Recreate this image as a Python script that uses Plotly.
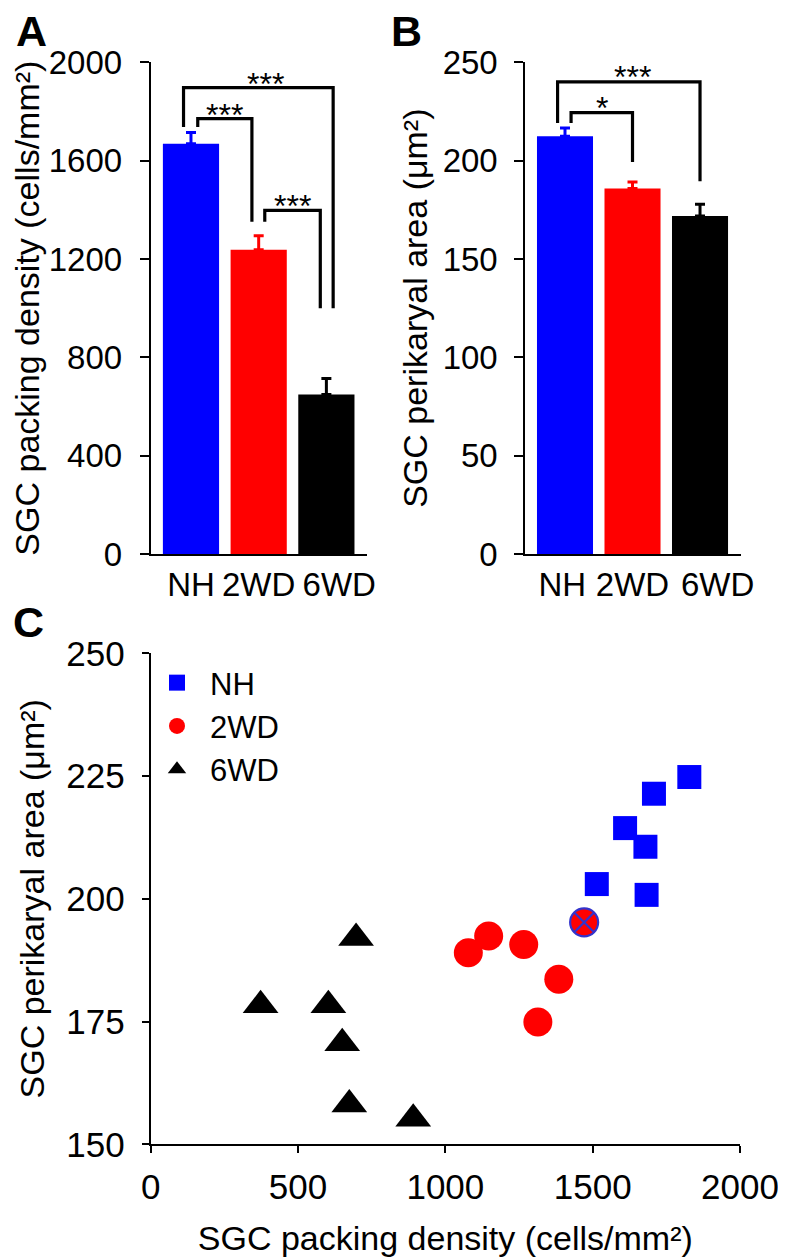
import plotly.graph_objects as go

# ---------------- data ----------------
groups = ["NH", "2WD", "6WD"]
group_colors = ["#0000FF", "#FF0000", "#000000"]

density_mean = [1669, 1238, 649]
density_sem = [45, 56, 65]

area_mean = [212.4, 185.8, 171.9]
area_sem = [4.2, 3.4, 5.9]

# significance brackets, panel A
sigA_pairs = [(0, 2), (0, 1), (1, 2)]
sigA_top = [1897, 1771, 1398]
sigA_leg_bottom = [(1737, 1000), (1737, 1351), (1351, 1000)]
sigA_labels = ["***", "***", "***"]

# significance brackets, panel B
sigB_pairs = [(0, 2), (0, 1)]
sigB_top = [240, 224.4]
sigB_leg_bottom = [(219.2, 189.5), (219.2, 199.3)]
sigB_labels = ["***", "*"]

# panel C scatter
nh_density = [1828, 1708, 1610, 1679, 1514, 1683]
nh_area = [224.8, 221.4, 214.4, 210.6, 203.0, 200.8]
wd2_density = [1078, 1147, 1266, 1385, 1314]
wd2_area = [189.0, 192.4, 190.7, 183.6, 174.9]
wd6_density = [697, 373, 603, 650, 674, 891]
wd6_area = [192.0, 178.3, 178.3, 170.6, 158.1, 155.2]
flag_density = [1471]
flag_area = [195.2]

density_title = "SGC packing density (cells/mm²)"
area_title = "SGC perikaryal area (μm²)"

# ---------------- style ----------------
FONT = "Liberation Sans, Arial, Helvetica, sans-serif"
TICK_FS = 33
TITLE_FS = 34
C_TICK_FS = 35
legA_off = [(-0.11, 0.10), (0.10, -0.10), (0.09, -0.09)]
legB_off = [(-0.11, 0.0), (0.09, 0.0)]
starA_x = [1.1, 0.5, 1.5]
starB_x = [1.0, 0.55]
labelA_pos = [0, 1, 2.19]
labelB_pos = [-0.04, 1, 2.26]

PAGE_OFF = 8          # default body margin of the html page
W, H = 786 - PAGE_OFF, 1257 - PAGE_OFF


def px_x(p):
    return (p - PAGE_OFF) / W


def px_y(p):
    return 1 - (p - PAGE_OFF) / H


fig = go.Figure()

# bars A and B
for i, g in enumerate(groups):
    fig.add_trace(go.Bar(
        x=[i], y=[density_mean[i]], width=0.83, name=g,
        marker=dict(color=group_colors[i], line=dict(width=0)),
        error_y=dict(type="data", symmetric=False, array=[density_sem[i]], arrayminus=[0],
                     color=group_colors[i], thickness=3, width=5),
        showlegend=False, xaxis="x", yaxis="y"))
    fig.add_trace(go.Bar(
        x=[i], y=[area_mean[i]], width=0.83, name=g,
        marker=dict(color=group_colors[i], line=dict(width=0)),
        error_y=dict(type="data", symmetric=False, array=[area_sem[i]], arrayminus=[0],
                     color=group_colors[i], thickness=3, width=5),
        showlegend=False, xaxis="x2", yaxis="y2"))

annotations = []


def add_brackets(pairs, tops, legs, offs, labels, starx, xa, ya, yshift):
    for (a, b), top, (l0, l1), (o0, o1), lab, sx in zip(pairs, tops, legs, offs, labels, starx):
        fig.add_trace(go.Scatter(
            x=[a + o0, a + o0, b + o1, b + o1], y=[l0, top, top, l1],
            mode="lines", line=dict(color="black", width=3.2),
            showlegend=False, hoverinfo="skip", xaxis=xa, yaxis=ya, cliponaxis=False))
        annotations.append(dict(
            x=sx, y=top, xref=xa, yref=ya, text=lab, showarrow=False,
            yanchor="bottom", yshift=yshift,
            font=dict(family=FONT, size=32, color="black")))


add_brackets(sigA_pairs, sigA_top, sigA_leg_bottom, legA_off, sigA_labels, starA_x, "x", "y", -16)
add_brackets(sigB_pairs, sigB_top, sigB_leg_bottom, legB_off, sigB_labels, starB_x, "x2", "y2", -15)

# scatter C
fig.add_trace(go.Scatter(x=nh_density, y=nh_area, mode="markers", name="NH",
                         marker=dict(symbol="square", size=24, color="#0000FF"),
                         xaxis="x3", yaxis="y3", cliponaxis=False))
fig.add_trace(go.Scatter(x=wd2_density, y=wd2_area, mode="markers", name="2WD",
                         marker=dict(symbol="circle", size=29, color="#FF0000"),
                         xaxis="x3", yaxis="y3", cliponaxis=False))
fig.add_trace(go.Scatter(x=wd6_density, y=wd6_area, mode="markers", name="6WD",
                         marker=dict(symbol="triangle-up", size=31, color="#000000"),
                         xaxis="x3", yaxis="y3", cliponaxis=False))
fig.add_trace(go.Scatter(x=flag_density, y=flag_area, mode="markers", showlegend=False,
                         marker=dict(symbol="circle-x", size=28, color="#FF0000",
                                     line=dict(color="#3333CC", width=2.2)),
                         xaxis="x3", yaxis="y3", cliponaxis=False))

axis_common = dict(showline=True, linewidth=2, linecolor="black", showgrid=False,
                   zeroline=False, tickcolor="black", tickwidth=2, automargin=False,
                   tickangle=0)

# panel letters
for letter, lx, ly in [("A", 14, 5), ("B", 389, 5), ("C", 11, 596)]:
    annotations.append(dict(x=px_x(lx), y=px_y(ly), xref="paper", yref="paper",
                            xanchor="left", yanchor="top", showarrow=False,
                            text="<b>%s</b>" % letter,
                            font=dict(family=FONT, size=43, color="black")))

fig.update_layout(
    template="none",
    width=W, height=H,
    margin=dict(l=0, r=0, t=0, b=0, autoexpand=False),
    paper_bgcolor="white", plot_bgcolor="white",
    barmode="overlay",
    font=dict(family=FONT, color="black"),
    annotations=annotations,
    xaxis=dict(domain=[px_x(150.7), px_x(367)], anchor="y", range=[-0.595, 2.6],
               tickvals=labelA_pos, ticktext=groups, ticks="",
               tickfont=dict(size=TICK_FS), ticklabelstandoff=0, **axis_common),
    yaxis=dict(domain=[px_y(554), px_y(62.3)], anchor="x", range=[0, 2000],
               tickvals=[0, 400, 800, 1200, 1600, 2000], ticks="outside", ticklen=9,
               tickfont=dict(size=TICK_FS), ticklabelstandoff=11,
               title=dict(text=density_title, font=dict(size=TITLE_FS), standoff=2),
               **axis_common),
    xaxis2=dict(domain=[px_x(525.3), px_x(741)], anchor="y2", range=[-0.588, 2.607],
                tickvals=labelB_pos, ticktext=groups, ticks="",
                tickfont=dict(size=TICK_FS), ticklabelstandoff=0, **axis_common),
    yaxis2=dict(domain=[px_y(554), px_y(62.3)], anchor="x2", range=[0, 250],
                tickvals=[0, 50, 100, 150, 200, 250], ticks="outside", ticklen=9,
                tickfont=dict(size=TICK_FS), ticklabelstandoff=10,
                title=dict(text=area_title, font=dict(size=TITLE_FS), standoff=5),
                **axis_common),
    xaxis3=dict(domain=[px_x(150.7), px_x(740)], anchor="y3", range=[0, 2000],
                tickvals=[0, 500, 1000, 1500, 2000], ticks="outside", ticklen=7,
                tickfont=dict(size=C_TICK_FS), ticklabelstandoff=4,
                title=dict(text=density_title, font=dict(size=TITLE_FS), standoff=26),
                **axis_common),
    yaxis3=dict(domain=[px_y(1144.3), px_y(653.3)], anchor="x3", range=[150, 250],
                tickvals=[150, 175, 200, 225, 250], ticks="outside", ticklen=7,
                tickfont=dict(size=C_TICK_FS), ticklabelstandoff=10,
                title=dict(text=area_title, font=dict(size=TITLE_FS), standoff=11),
                **axis_common),
    legend=dict(x=px_x(144), y=px_y(656), xanchor="left", yanchor="top",
                font=dict(family=FONT, size=31, color="black"),
                bgcolor="rgba(0,0,0,0)", borderwidth=0, itemwidth=56, tracegroupgap=0),
)

fig.write_html("out.html")
